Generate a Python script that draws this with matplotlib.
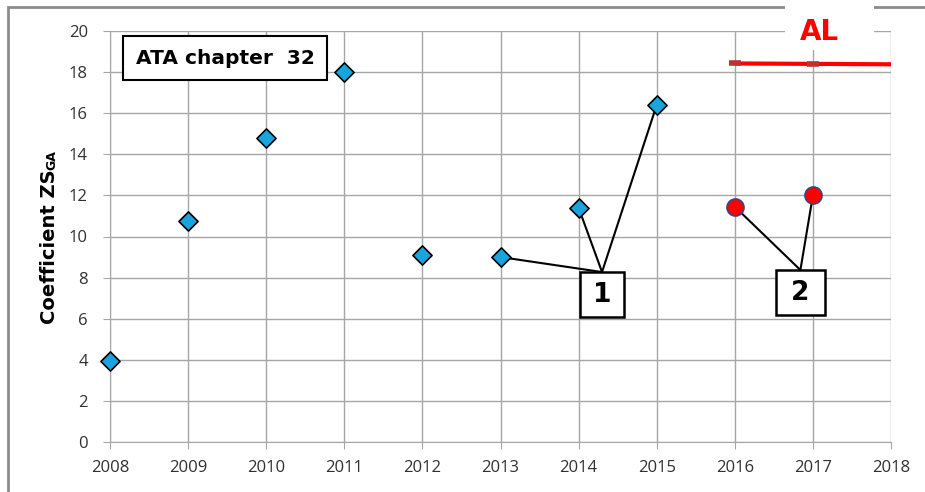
import matplotlib.pyplot as plt
from matplotlib.patches import Rectangle

# data
years = [2008, 2009, 2010, 2011, 2012, 2013, 2014, 2015]
zsga = [3.95, 10.75, 14.8, 18.0, 9.1, 9.0, 11.4, 16.4]
years_new = [2016, 2017]
zsga_new = [11.45, 12.0]
al_years = [2016, 2017, 2018]
al_level = [18.42, 18.4, 18.38]

group1_idx = [5, 6, 7]
group1_anchor = (2014.3, 8.27)
group2_anchor = (2016.84, 8.37)

fig = plt.figure(figsize=(9.25, 4.92), dpi=100)
ax = fig.add_axes([110 / 925, 1 - 442 / 492, 781 / 925, 411 / 492])

tick_font = {'family': 'Open Sans', 'size': 12}
bold = 'DejaVu Sans'

ax.set_xlim(2008, 2018)
ax.set_ylim(0, 20)
ax.set_xticks(range(2008, 2019))
ax.set_yticks(range(0, 21, 2))
ax.set_xticklabels([str(y) for y in range(2008, 2019)], fontdict=tick_font)
ax.set_yticklabels([str(v) for v in range(0, 21, 2)], fontdict=tick_font)
ax.grid(True, color='#a6a6a6', lw=1)
ax.set_axisbelow(True)
for s in ['top', 'right']:
    ax.spines[s].set_visible(False)
for s in ['left', 'bottom']:
    ax.spines[s].set_color('#a6a6a6')
ax.tick_params(colors='#a6a6a6', length=5, labelcolor='#303030')
ax.tick_params(axis='x', pad=8)
ax.tick_params(axis='y', pad=11)

# leader lines to the numbered boxes
for i in group1_idx:
    ax.plot([years[i], group1_anchor[0]], [zsga[i], group1_anchor[1]], color='black', lw=1.5, zorder=2)
for x, y in zip(years_new, zsga_new):
    ax.plot([x, group2_anchor[0]], [y, group2_anchor[1]], color='black', lw=1.5, zorder=2)

ax.scatter(years, zsga, marker='D', s=95, facecolor='#19a4de', edgecolor='black', lw=1.2, zorder=4, clip_on=False)
ax.scatter(years_new, zsga_new, marker='o', s=150, facecolor='red', edgecolor='#2b4a8a', lw=1.2, zorder=4)

# AL limit line
ax.plot(al_years, al_level, color='red', lw=3, solid_capstyle='butt', zorder=3, clip_on=False)
ax.plot(al_years[:2], al_level[:2], ls='none', marker='_', ms=9, mew=4, color='#c03030', zorder=3)

# numbered callout boxes
for (cx, top), w, label in [(group1_anchor, 0.565, '1'), (group2_anchor, 0.63, '2')]:
    h = 2.2
    ax.add_patch(Rectangle((cx - w / 2, top - h), w, h, facecolor='white', edgecolor='black', lw=1.8, zorder=5))
    ax.text(cx, top - h / 2, label, fontsize=19, fontweight='bold', family=bold,
            ha='center', va='center', zorder=6)

fig.text(225 / 925, 1 - 58 / 492, 'ATA chapter  32', fontsize=14.5, fontweight='bold', family=bold,
         ha='center', va='center',
         bbox=dict(boxstyle='square,pad=0.62', facecolor='white', edgecolor='black', lw=1.5), zorder=5)

# outer chart border
fig.patches.append(Rectangle((8 / 925, -0.05), 1.0, 1 - 7 / 492 + 0.05, transform=fig.transFigure,
                             fill=False, edgecolor='#8c8c8c', lw=2))

# white patch behind the AL label
fig.patches.append(Rectangle((785 / 925, 1 - 50 / 492), 89 / 925, 46 / 492, transform=fig.transFigure,
                             facecolor='white', edgecolor='none', zorder=5))
fig.text(819 / 925, 1 - 32 / 492, 'AL', fontsize=20, fontweight='bold', color='red', family=bold,
         ha='center', va='center', zorder=6)

fig.text(50 / 925, 1 - 247 / 492, 'Coefficient ZS', rotation=90, fontsize=14, fontweight='bold',
         family=bold, ha='center', va='center')
fig.text(52 / 925, 1 - 160 / 492, 'GA', rotation=90, fontsize=9, fontweight='bold',
         family=bold, ha='center', va='center')

plt.savefig('out.png', dpi=100)
